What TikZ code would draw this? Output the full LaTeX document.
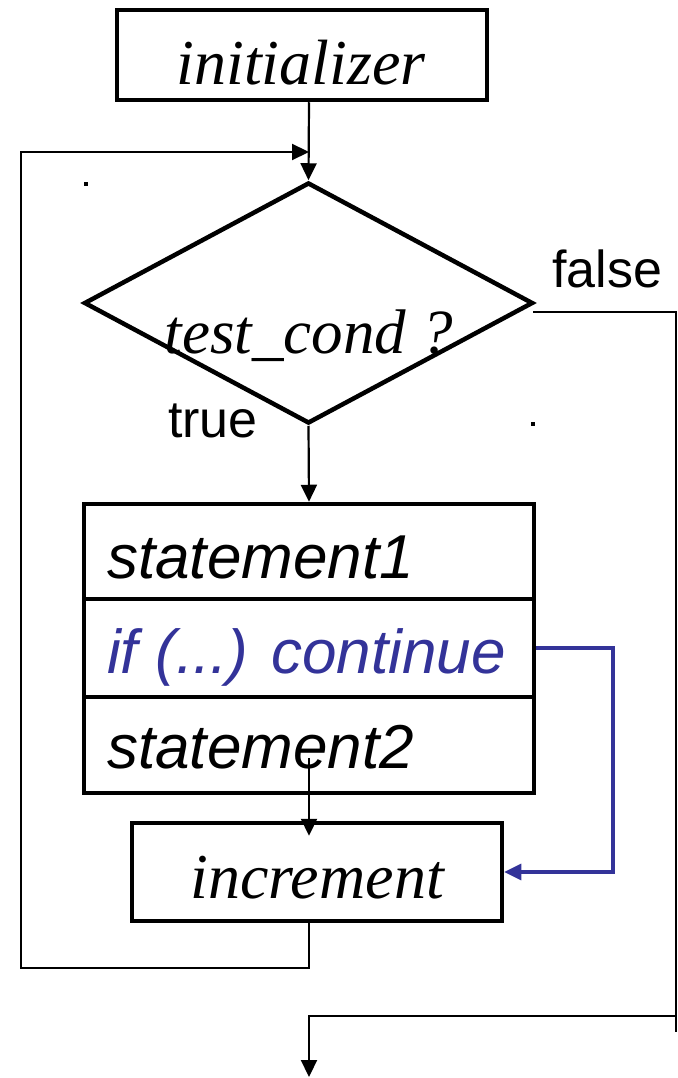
\documentclass[tikz,border=0pt]{standalone}
\usepackage{fontspec}
\setmainfont{Liberation Serif}
\setsansfont{Liberation Sans}
\usetikzlibrary{arrows.meta,shapes.geometric}
\definecolor{contblue}{RGB}{51,51,153}
\tikzset{
  box/.style={draw, line width=4.5pt, inner sep=0pt, minimum width=#1},
  conn/.style={draw, line width=2.2pt, -{Triangle[length=17pt,width=16pt]}},
  plainline/.style={draw, line width=2.2pt},
  contconn/.style={draw=contblue, line width=3.2pt, -{Triangle[length=17pt,width=16pt]}, color=contblue},
  code/.style={font=\fontsize{63}{70}\selectfont\itshape, inner sep=0pt},
  stmt/.style={font=\fontsize{62}{70}\selectfont\sffamily\itshape, inner sep=0pt, anchor=base west},
  tag/.style={font=\fontsize{52}{60}\selectfont\sffamily, inner sep=0pt, anchor=base west},
  speck/.style={fill, inner sep=0pt, minimum size=4.5pt}
}
\begin{document}
\begin{tikzpicture}[x=1pt,y=-1pt]
\useasboundingbox (0,0) rectangle (677,1078);

% initializer box
\node[box=370pt, minimum height=90pt] (init) at (302,55) {};
\node[code, anchor=base, font=\fontsize{64}{70}\selectfont\itshape] (inittxt) at (301,85) {initializer};

% condition diamond
\node[diamond, draw, line width=4.5pt, inner sep=0pt, minimum width=449pt, minimum height=241pt] (dia) at (308.5,303) {};
\node[code, anchor=base] (condtxt) at (309,353) {test\_cond ?};
\node[tag] (falsetxt) at (552,287) {false};
\node[tag] (truetxt) at (168,437) {true};
\node[speck] (speckA) at (86,184) {};
\node[speck, minimum size=4pt] (speckB) at (533,424) {};

% loop body
\node[box=450pt, minimum height=95pt] (s1) at (309,551.5) {};
\node[box=450pt, minimum height=98pt] (s2) at (309,648) {};
\node[box=450pt, minimum height=96pt] (s3) at (309,745) {};
\node[stmt] (s1txt) at (107,578) {statement1};
\node[stmt, text=contblue] (s2txt) at (107,673) {if (...) continue};
\node[stmt] (s3txt) at (107,768) {statement2};

% increment box
\node[box=370pt, minimum height=98pt] (inc) at (317,872) {};
\node[code, anchor=base, font=\fontsize{64}{70}\selectfont\itshape] (inctxt) at (317,898) {increment};

% connectors
\coordinate (merge) at (309,152);
\coordinate (s3tail) at (309,758);
\coordinate (fstart) at (533,312);
\coordinate (exit) at (309,1077);

\draw[conn] (merge |- init.south) -- (dia.north);
\draw[conn] (merge |- inc.south) -- (309,968) -- (21,968) -- (21,152) -- (merge);
\draw[conn] (dia.south) -- (merge |- s1.north);
\draw[conn, shorten >=-15pt] (s3tail) -- (merge |- inc.north);
\draw[contconn] (s2.east) -- (613,648) -- (613,872) -- (inc.east);
\draw[plainline] (fstart) -- (676,312) -- (676,1032);
\draw[conn] (676,1016) -- (309,1016) -- (exit);
\end{tikzpicture}
\end{document}
